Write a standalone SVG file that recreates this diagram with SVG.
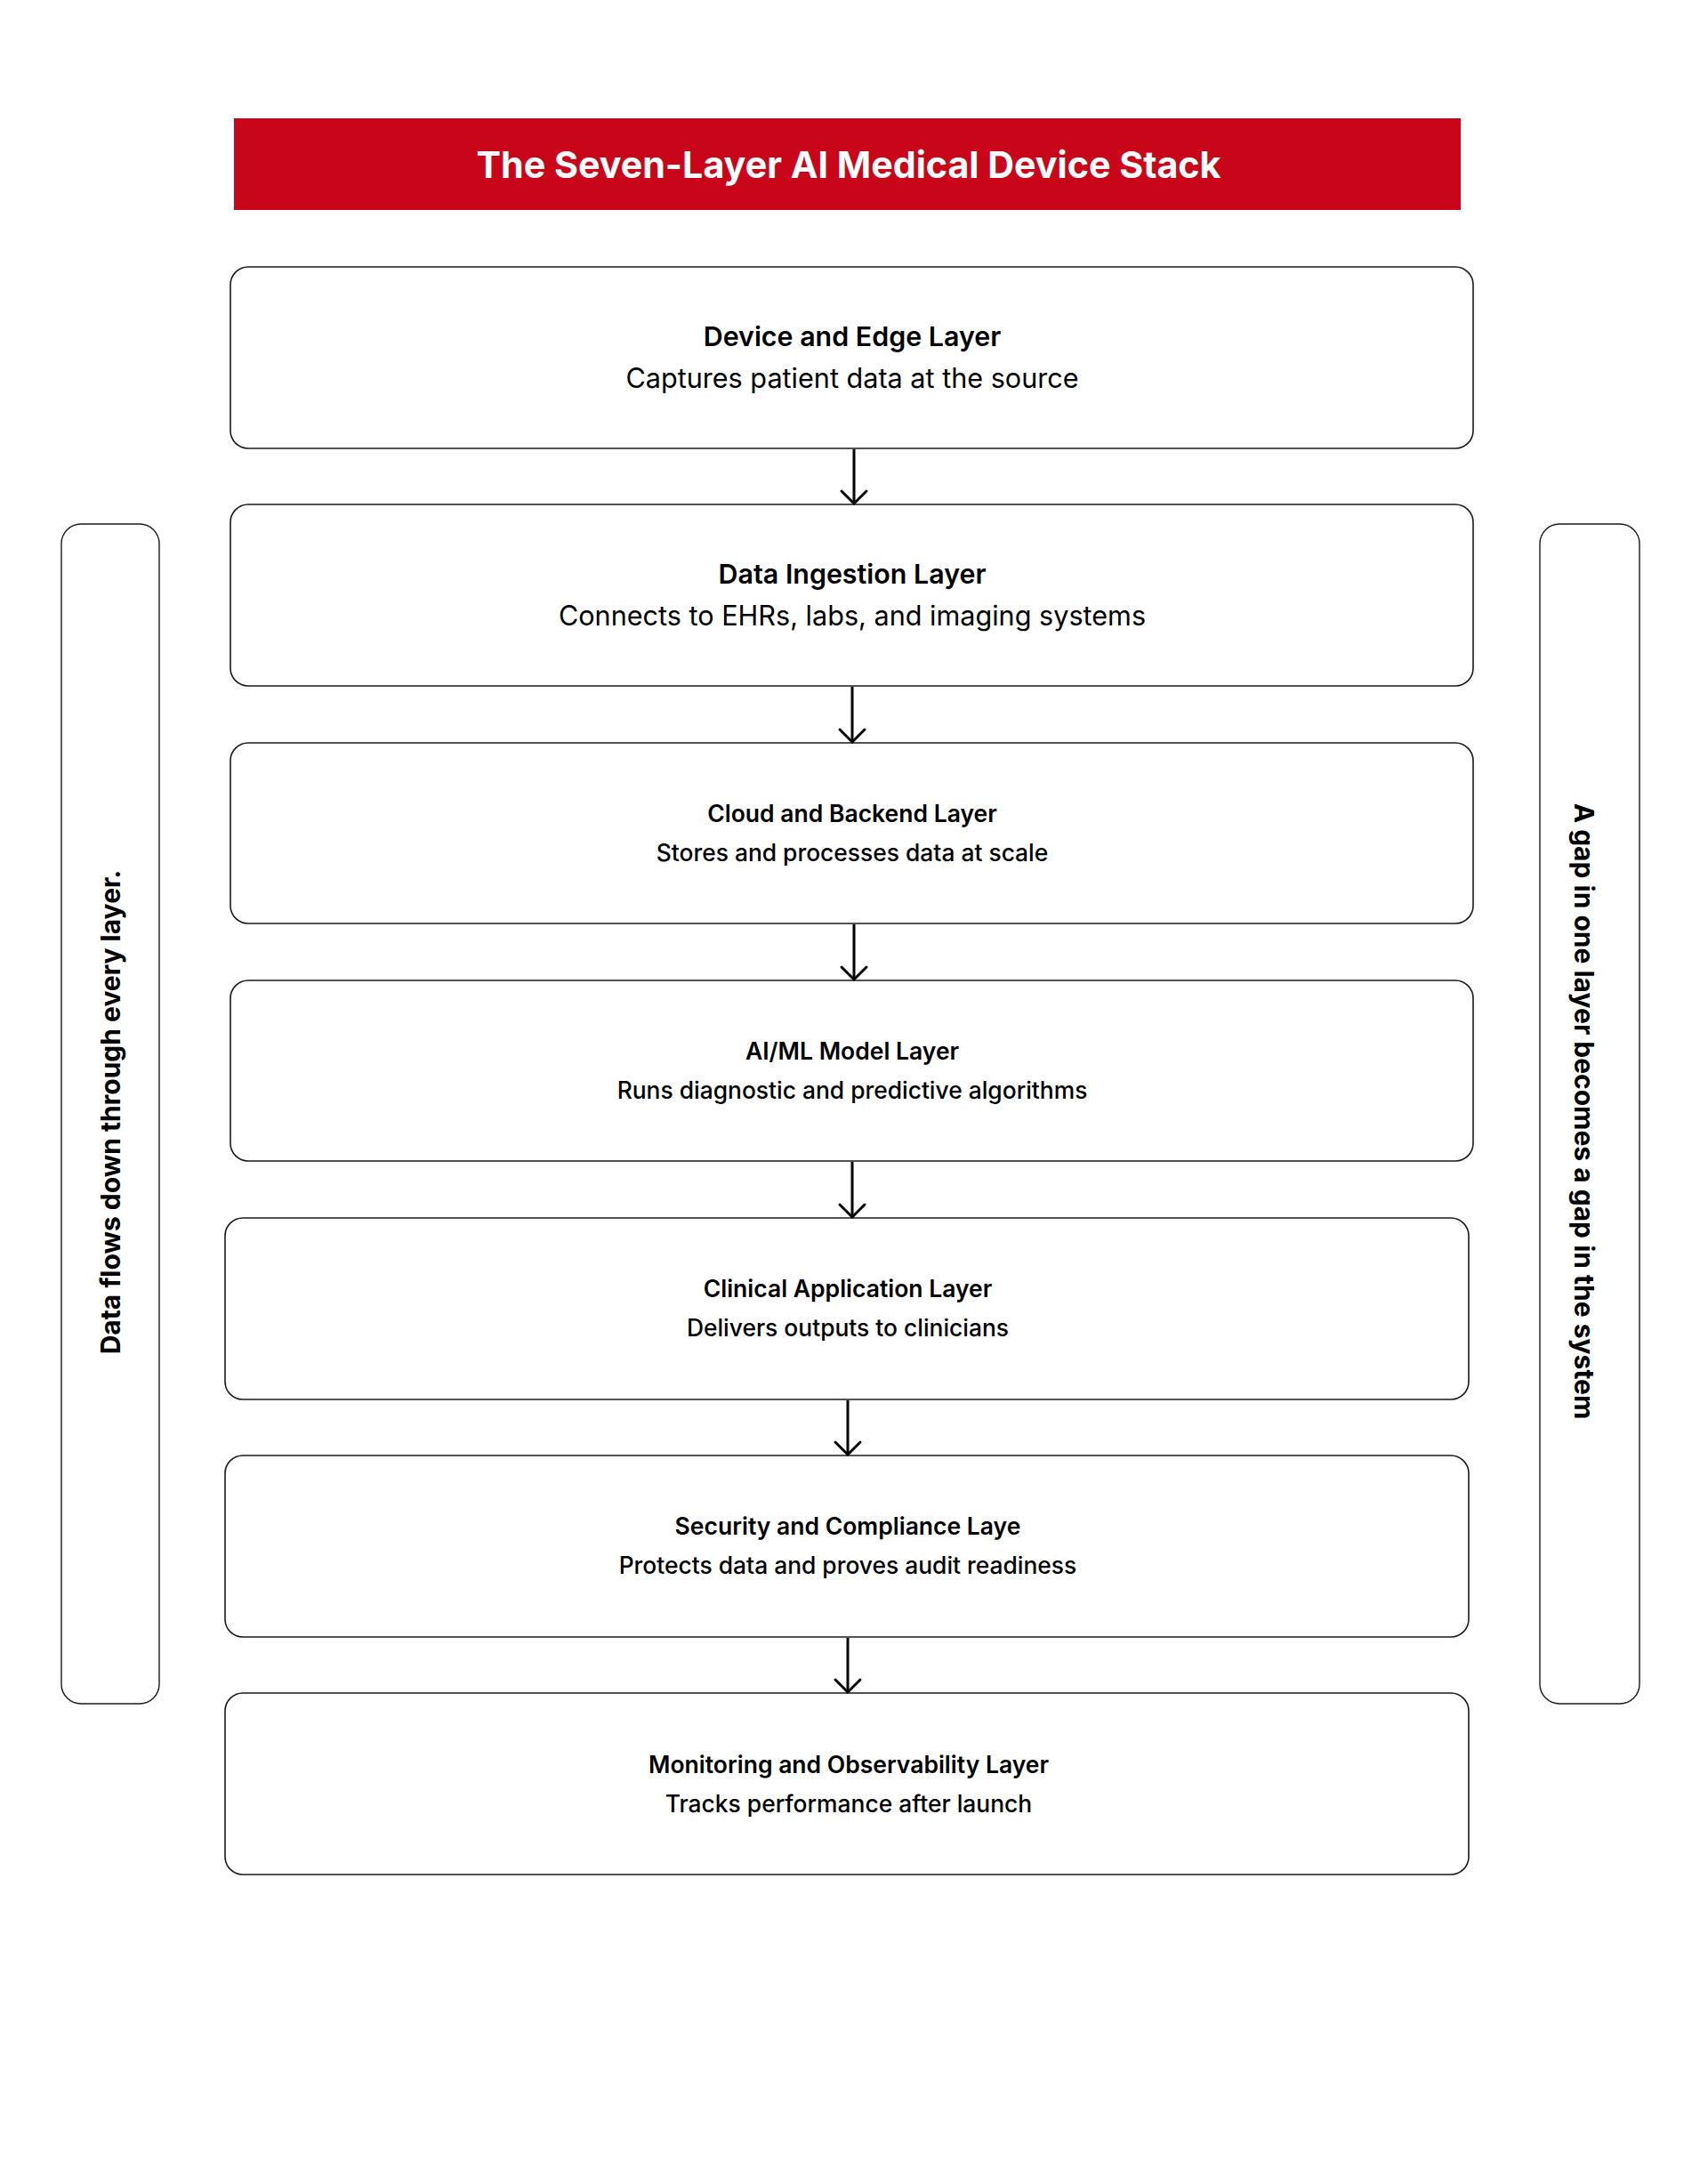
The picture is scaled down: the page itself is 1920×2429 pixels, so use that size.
<svg xmlns="http://www.w3.org/2000/svg" width="1920" height="2429" viewBox="0 0 1920 2429">
  <defs>
    <style>
      .box { fill: #ffffff; stroke: #1a1a1a; stroke-width: 1.6; }
      .side { fill: #ffffff; stroke: #1a1a1a; stroke-width: 1.4; }
      .t1 { font-family: Inter, "Liberation Sans", sans-serif; font-weight: 600; font-size: 30.4px; fill: #000; text-anchor: middle; }
      .s1 { font-family: Inter, "Liberation Sans", sans-serif; font-weight: 400; font-size: 30.6px; fill: #000; text-anchor: middle; }
      .t2 { font-family: Inter, "Liberation Sans", sans-serif; font-weight: 600; font-size: 26.5px; fill: #000; text-anchor: middle; }
      .s2 { font-family: Inter, "Liberation Sans", sans-serif; font-weight: 500; font-size: 26.4px; fill: #000; text-anchor: middle; }
      .vt { font-family: Inter, "Liberation Sans", sans-serif; font-weight: 700; font-size: 30px; fill: #000; text-anchor: middle; }
      .head { font-family: Inter, "Liberation Sans", sans-serif; font-weight: 700; font-size: 41.2px; fill: #fff; text-anchor: middle; }
      .conn line { stroke: #000; stroke-width: 3; }
      .conn path { fill: none; stroke: #000; stroke-width: 3; stroke-linecap: round; stroke-linejoin: miter; }
    </style>
  </defs>
  <rect width="1920" height="2429" fill="#ffffff"/>

  <g id="title">
    <rect x="263" y="133" width="1379" height="103" fill="#c90619"/>
    <text class="head" x="954" y="200">The Seven-Layer AI Medical Device Stack</text>
  </g>

  <g id="side-left">
    <rect class="side" x="69" y="589" width="110" height="1326" rx="22" ry="22"/>
    <text class="vt" transform="translate(135 1250) rotate(-90)">Data flows down through every layer.</text>
  </g>

  <g id="side-right">
    <rect class="side" x="1731" y="589" width="112" height="1326" rx="22" ry="22"/>
    <text class="vt" transform="translate(1770 1249) rotate(90)">A gap in one layer becomes a gap in the system</text>
  </g>

  <g id="layer-1">
    <rect class="box" x="259" y="300" width="1397" height="204" rx="20" ry="20"/>
    <text class="t1" x="958" y="389">Device and Edge Layer</text>
    <text class="s1" x="958" y="436">Captures patient data at the source</text>
  </g>
  <g id="layer-2">
    <rect class="box" x="259" y="567" width="1397" height="204" rx="20" ry="20"/>
    <text class="t1" x="958" y="656">Data Ingestion Layer</text>
    <text class="s1" x="958" y="703">Connects to EHRs, labs, and imaging systems</text>
  </g>
  <g id="layer-3">
    <rect class="box" x="259" y="835" width="1397" height="203" rx="20" ry="20"/>
    <text class="t2" x="958" y="924">Cloud and Backend Layer</text>
    <text class="s2" x="958" y="968">Stores and processes data at scale</text>
  </g>
  <g id="layer-4">
    <rect class="box" x="259" y="1102" width="1397" height="203" rx="20" ry="20"/>
    <text class="t2" x="958" y="1191">AI/ML Model Layer</text>
    <text class="s2" x="958" y="1235">Runs diagnostic and predictive algorithms</text>
  </g>
  <g id="layer-5">
    <rect class="box" x="253" y="1369" width="1398" height="204" rx="20" ry="20"/>
    <text class="t2" x="953" y="1458">Clinical Application Layer</text>
    <text class="s2" x="953" y="1502">Delivers outputs to clinicians</text>
  </g>
  <g id="layer-6">
    <rect class="box" x="253" y="1636" width="1398" height="204" rx="20" ry="20"/>
    <text class="t2" x="953" y="1725">Security and Compliance Laye</text>
    <text class="s2" x="953" y="1769">Protects data and proves audit readiness</text>
  </g>
  <g id="layer-7">
    <rect class="box" x="253" y="1903" width="1398" height="204" rx="20" ry="20"/>
    <text class="t2" x="954" y="1993">Monitoring and Observability Layer</text>
    <text class="s2" x="954" y="2037">Tracks performance after launch</text>
  </g>

  <g id="connectors" class="conn">
    <line x1="960" y1="505" x2="960" y2="565"/>
    <path d="M946 552 L960 566 L974 552"/>
    <line x1="958" y1="772" x2="958" y2="833"/>
    <path d="M944 820 L958 834 L972 820"/>
    <line x1="960" y1="1039" x2="960" y2="1100"/>
    <path d="M946 1087 L960 1101 L974 1087"/>
    <line x1="958" y1="1306" x2="958" y2="1367"/>
    <path d="M944 1354 L958 1368 L972 1354"/>
    <line x1="953" y1="1574" x2="953" y2="1634"/>
    <path d="M939 1621 L953 1635 L967 1621"/>
    <line x1="953" y1="1841" x2="953" y2="1901"/>
    <path d="M939 1888 L953 1902 L967 1888"/>
  </g>
</svg>
